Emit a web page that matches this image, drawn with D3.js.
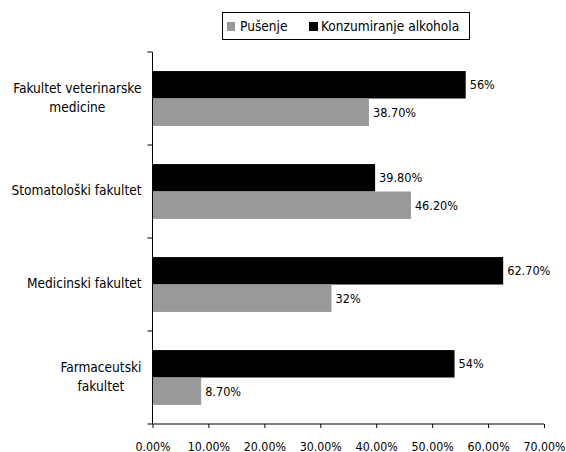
<!DOCTYPE html>
<html><head><meta charset="utf-8">
<script src="https://cdn.jsdelivr.net/npm/d3@7"></script>
<style>body{margin:0;background:#fff;} svg{display:block;} text{font-family:"DejaVu Sans Condensed","DejaVu Sans",sans-serif;font-stretch:condensed;}</style>
</head><body>
<script>
const categories = ["Fakultet veterinarske medicine", "Stomatološki fakultet", "Medicinski fakultet", "Farmaceutski fakultet"];
const categoryLines = [["Fakultet veterinarske", "medicine"], ["Stomatološki fakultet"], ["Medicinski fakultet"], ["Farmaceutski", "fakultet"]];
const seriesNames = ["Konzumiranje alkohola", "Pušenje"];
const alkohol = [56, 39.8, 62.7, 54];
const pusenje = [38.7, 46.2, 32, 8.7];
const alkoholLabels = ["56%", "39.80%", "62.70%", "54%"];
const pusenjeLabels = ["38.70%", "46.20%", "32%", "8.70%"];
const xTicks = [0, 10, 20, 30, 40, 50, 60, 70];
const colors = ["#000000", "#999999"];

const W = 566, H = 452;
const svg = d3.select("body").append("svg").attr("width", W).attr("height", H);
const m = {left: 152.5, right: 544, top: 52, bottom: 424};

const x = d3.scaleLinear().domain([0, 70]).range([m.left, m.right]);
const y = d3.scaleBand().domain(categories).range([m.top, m.bottom]).paddingInner(0.41).paddingOuter(0.205);
const ySub = d3.scaleBand().domain(seriesNames).range([0, y.bandwidth()]);

const data = [alkohol, pusenje];
const labels = [alkoholLabels, pusenjeLabels];

seriesNames.forEach((s, si) => {
  svg.append("g").selectAll("rect").data(categories).join("rect")
    .attr("x", x(0))
    .attr("y", c => y(c) + ySub(s))
    .attr("width", (c, i) => x(data[si][i]) - x(0))
    .attr("height", ySub.bandwidth())
    .attr("fill", colors[si]);
  svg.append("g").selectAll("text").data(categories).join("text")
    .attr("x", (c, i) => x(data[si][i]) + 4)
    .attr("y", c => y(c) + ySub(s) + ySub.bandwidth() / 2)
    .attr("dy", "0.35em")
    .attr("font-size", 12.6)
    .attr("fill", "#000")
    .text((c, i) => labels[si][i]);
});

// x axis
const xAxis = d3.axisBottom(x).tickValues(xTicks).tickSize(4).tickFormat(d => d.toFixed(2) + "%");
const gx = svg.append("g").attr("transform", `translate(0,${m.bottom})`).call(xAxis);
gx.select(".domain").attr("d", `M${m.left},0H${m.right}`).attr("stroke", "#000");
gx.selectAll(".tick line").attr("y1", 0).attr("y2", 4).attr("stroke", "#000");
gx.selectAll(".tick text").attr("font-size", 12.3).attr("font-family", null).attr("y", 26.5).attr("dy", null).attr("fill", "#000");

// y axis line with category boundary ticks
const step = (m.bottom - m.top) / categories.length;
svg.append("line").attr("x1", m.left).attr("x2", m.left).attr("y1", m.top).attr("y2", m.bottom).attr("stroke", "#000");
d3.range(categories.length + 1).forEach(i => {
  svg.append("line").attr("x1", m.left - 5).attr("x2", m.left).attr("y1", m.top + i * step).attr("y2", m.top + i * step).attr("stroke", "#000");
});

// category labels: right-aligned block, lines centered within block
categories.forEach((c, i) => {
  const lines = categoryLines[i];
  const cy = y(c) + y.bandwidth() / 2 - 1;
  const t = svg.append("text").attr("text-anchor", "middle").attr("font-size", 13.6).attr("fill", "#000");
  const spans = lines.map((l, li) => t.append("tspan").attr("y", cy + (li - (lines.length - 1) / 2) * 19).attr("dy", "0.35em").text(l));
  const maxW = d3.max(spans, sp => sp.node().getComputedTextLength());
  spans.forEach(sp => sp.attr("x", 141.5 - maxW / 2));
});

// legend
const lg = svg.append("g");
lg.append("rect").attr("x", 222.5).attr("y", 12.5).attr("width", 247).attr("height", 27).attr("fill", "#fff").attr("stroke", "#000");
const legendItems = [{name: "Pušenje", color: colors[1], x: 227, w: 8, tx: 240}, {name: "Konzumiranje alkohola", color: colors[0], x: 309, w: 9, tx: 321}];
legendItems.forEach(it => {
  lg.append("rect").attr("x", it.x).attr("y", 22).attr("width", it.w).attr("height", 9).attr("fill", it.color);
  lg.append("text").attr("x", it.tx).attr("y", 26.5).attr("dy", "0.35em").attr("font-size", 13.6).text(it.name);
});
</script>
</body></html>
